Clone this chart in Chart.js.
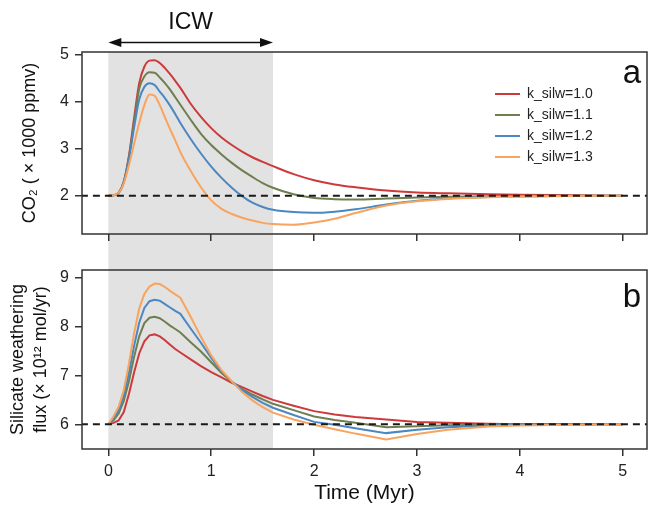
<!DOCTYPE html>
<html><head><meta charset="utf-8">
<script src="https://cdn.jsdelivr.net/npm/chart.js@4"></script>
<style>
html,body{margin:0;padding:0;background:#fff;}
#wrap{position:relative;width:648px;height:510px;overflow:hidden;}
canvas{position:absolute;left:0;}
</style>
</head><body>
<div id="wrap">
<canvas id="cTop" width="648" height="252" style="top:0"></canvas>
<canvas id="cBot" width="648" height="258" style="top:252px"></canvas>
</div>
<script>
// ---------- data ----------
const time = [0,0.05,0.1,0.15,0.2,0.25,0.3,0.35,0.4,0.45,0.5,0.55,0.6,0.65,0.7,0.8,0.9,1.0,1.1,1.2,1.3,1.4,1.5,1.6,1.8,2.0,2.2,2.4,2.7,3.0,3.3,3.7,4.0,4.5,5.0];
const seriesLabels = ['k_silw=1.0','k_silw=1.1','k_silw=1.2','k_silw=1.3'];

const co2_k10 = [2.0,2.01,2.06,2.3,2.85,3.65,4.4,4.75,4.88,4.89,4.83,4.72,4.59,4.45,4.3,3.96,3.68,3.44,3.24,3.08,2.94,2.82,2.72,2.63,2.46,2.33,2.24,2.18,2.11,2.07,2.05,2.03,2.02,2.01,2.0];
const co2_k11 = [2.0,2.01,2.06,2.29,2.82,3.55,4.28,4.54,4.63,4.62,4.52,4.4,4.26,4.1,3.94,3.62,3.32,3.08,2.88,2.7,2.54,2.4,2.27,2.17,2.03,1.95,1.925,1.92,1.94,1.96,1.975,1.99,1.995,2.0,2.0];
const co2_k12 = [2.0,2.01,2.06,2.28,2.78,3.45,4.05,4.32,4.4,4.36,4.22,4.08,3.92,3.74,3.55,3.21,2.9,2.62,2.38,2.17,1.99,1.85,1.76,1.7,1.65,1.635,1.66,1.71,1.81,1.89,1.94,1.97,1.985,1.995,2.0];
const co2_k13 = [2.0,2.01,2.06,2.26,2.65,3.1,3.55,3.93,4.16,4.13,3.93,3.67,3.42,3.18,2.93,2.53,2.18,1.9,1.72,1.61,1.53,1.47,1.42,1.395,1.38,1.43,1.51,1.63,1.79,1.88,1.93,1.965,1.98,1.995,2.0];

const flux_k10 = [6.0,6.03,6.08,6.25,6.62,7.06,7.45,7.7,7.82,7.84,7.8,7.72,7.63,7.54,7.47,7.33,7.19,7.07,6.96,6.85,6.76,6.67,6.58,6.5,6.38,6.27,6.2,6.15,6.1,6.05,6.03,6.01,6.0,6.0,6.0];
const flux_k11 = [6.0,6.08,6.22,6.48,6.88,7.38,7.8,8.07,8.18,8.2,8.17,8.1,8.02,7.95,7.88,7.68,7.49,7.27,7.05,6.87,6.72,6.61,6.51,6.42,6.29,6.16,6.09,6.03,5.94,5.96,5.98,5.99,6.0,6.0,6.0];
const flux_k12 = [6.0,6.12,6.28,6.58,7.05,7.6,8.08,8.38,8.52,8.55,8.53,8.46,8.39,8.32,8.26,7.96,7.67,7.36,7.08,6.87,6.7,6.56,6.44,6.34,6.19,6.05,5.99,5.92,5.82,5.89,5.94,5.975,5.99,6.0,6.0];
const flux_k13 = [6.0,6.16,6.36,6.7,7.24,7.86,8.37,8.67,8.82,8.88,8.87,8.81,8.73,8.66,8.59,8.2,7.79,7.41,7.11,6.88,6.66,6.49,6.35,6.24,6.1,5.99,5.9,5.81,5.69,5.8,5.89,5.955,5.975,5.99,6.0];

const co2Baseline = 2;
const fluxBaseline = 6;
const xTicks = [0,1,2,3,4,5];
const co2Ticks = [2,3,4,5];
const fluxTicks = [6,7,8,9];
const icwStart = 0, icwEnd = 1.6;

// ---------- styles ----------
const colors = ['#cc3a3b','#6f7e4f','#4b87c1','#f8a45e'];
const FONT = "'Liberation Sans', Arial, Helvetica, sans-serif";
Chart.defaults.font.family = FONT;
Chart.defaults.color = '#222';

function makeDatasets(series, base, smooth){
  const ds = [{
    label: '_base', data: [{x:-0.5,y:base},{x:5.6,y:base}],
    borderColor:'#1a1a1a', borderWidth:2, borderDash:[7,5], pointRadius:0, order:0
  }];
  series.forEach((s,i)=>{
    ds.push({
      label: seriesLabels[i],
      data: time.map((t,j)=>({x:t,y:s[j]})),
      borderColor: colors[i], borderWidth: 2, pointRadius: 0,
      cubicInterpolationMode: smooth ? 'monotone' : 'default',
      tension: 0, order: 4 - i
    });
  });
  return ds;
}

function xScale(showLabels, height){
  return {
    type:'linear', min:-0.256, max:5.235,
    afterBuildTicks: s => { s.ticks = xTicks.map(v=>({value:v})); },
    afterFit: s => { s.height = height; },
    grid:{display:true, drawOnChartArea:false, drawTicks:true, tickLength:7, color:'#333', lineWidth:1.5},
    border:{display:false},
    ticks:{display:showLabels, font:{size:16}, color:'#222', padding:6, maxRotation:0, autoSkip:false},
    title: showLabels ? {display:true, text:'Time (Myr)', font:{size:21}, color:'#111', padding:{top:0,bottom:4}} : {display:false}
  };
}
function yScale(min, max, ticks, title, titleFont, titlePad){
  return {
    type:'linear', min:min, max:max,
    afterBuildTicks: s => { s.ticks = ticks.map(v=>({value:v})); },
    afterFit: s => { s.width = 82; },
    grid:{display:true, drawOnChartArea:false, drawTicks:true, tickLength:7, color:'#333', lineWidth:1.5},
    border:{display:false},
    ticks:{font:{size:16}, color:'#222', padding:6},
    title:{display:true, text:title, font:titleFont, color:'#111', padding:{top:titlePad,bottom:0}}
  };
}

function drawShade(chart){
  const opts = chart.options.plugins.shade;
  const {ctx, chartArea, scales} = chart;
  const x0 = scales.x.getPixelForValue(icwStart), x1 = scales.x.getPixelForValue(icwEnd);
  const y0 = opts.toTop ? 0 : chartArea.top;
  const y1 = opts.toBottom ? chart.height : chartArea.bottom;
  ctx.save(); ctx.fillStyle = '#e2e2e2'; ctx.fillRect(x0, y0, x1-x0, y1-y0); ctx.restore();
}
const shadeBelow = { id:'shadeBelow', beforeDraw(chart){ drawShade(chart); } };

const framePlugin = {
  id:'frame',
  afterDraw(chart, args, opts){
    const {ctx, chartArea:a, scales} = chart;
    ctx.save();
    ctx.strokeStyle = '#333'; ctx.lineWidth = 1.5;
    ctx.strokeRect(a.left, a.top, a.right-a.left, a.bottom-a.top);
    ctx.fillStyle = '#111';
    ctx.font = '33px ' + FONT;
    ctx.textAlign = 'right'; ctx.textBaseline = 'alphabetic';
    ctx.fillText(opts.letter, a.right - 6, a.top + opts.letterBase);
    if (opts.legend){
      ctx.font = '14px ' + FONT; ctx.textAlign = 'left'; ctx.textBaseline = 'middle';
      seriesLabels.forEach((lab,i)=>{
        const y = a.top + 42 + i*21;
        ctx.strokeStyle = colors[i]; ctx.lineWidth = 2;
        ctx.beginPath(); ctx.moveTo(495, y); ctx.lineTo(520, y); ctx.stroke();
        ctx.fillStyle = '#222'; ctx.fillText(lab, 527, y);
      });
    }
    if (opts.icw){
      const x0 = scales.x.getPixelForValue(icwStart), x1 = scales.x.getPixelForValue(icwEnd);
      const y = 42.5;
      ctx.strokeStyle = '#111'; ctx.fillStyle = '#111'; ctx.lineWidth = 1.3;
      ctx.beginPath(); ctx.moveTo(x0+6, y); ctx.lineTo(x1-6, y); ctx.stroke();
      ctx.beginPath(); ctx.moveTo(x0, y); ctx.lineTo(x0+13, y-4.5); ctx.lineTo(x0+13, y+4.5); ctx.closePath(); ctx.fill();
      ctx.beginPath(); ctx.moveTo(x1, y); ctx.lineTo(x1-13, y-4.5); ctx.lineTo(x1-13, y+4.5); ctx.closePath(); ctx.fill();
      ctx.font = '23px ' + FONT; ctx.textAlign = 'center'; ctx.textBaseline = 'middle';
      ctx.fillText('ICW', (x0+x1)/2, 23);
    }
    ctx.restore();
  }
};

new Chart(document.getElementById('cTop'), {
  type:'line',
  data:{datasets: makeDatasets([co2_k10,co2_k11,co2_k12,co2_k13], co2Baseline, true)},
  options:{
    responsive:false, animation:false, devicePixelRatio:1,
    layout:{padding:{top:52,right:1,left:0,bottom:0}},
    plugins:{legend:{display:false}, tooltip:{enabled:false},
      shade:{toTop:false, toBottom:true},
      frame:{letter:'a', letterBase:31, legend:true, icw:true}},
    scales:{
      x: xScale(false, 18),
      y: yScale(1.183, 5.064, co2Ticks, 'CO\u2082 ( \u00d7 1000 ppmv)', {size:18}, 19)
    }
  },
  plugins:[shadeBelow, framePlugin]
});

new Chart(document.getElementById('cBot'), {
  type:'line',
  data:{datasets: makeDatasets([flux_k10,flux_k11,flux_k12,flux_k13], fluxBaseline, false)},
  options:{
    responsive:false, animation:false, devicePixelRatio:1,
    layout:{padding:{top:18,right:1,left:0,bottom:0}},
    plugins:{legend:{display:false}, tooltip:{enabled:false},
      shade:{toTop:true, toBottom:false},
      frame:{letter:'b', letterBase:37, legend:false, icw:false}},
    scales:{
      x: xScale(true, 61),
      y: yScale(5.495, 9.158, fluxTicks, ['Silicate weathering','flux (\u00d7 10\u00b9\u00b2 mol/yr)'], {size:18, lineHeight:1.28}, 6.5)
    }
  },
  plugins:[shadeBelow, framePlugin]
});
</script>
</body></html>
